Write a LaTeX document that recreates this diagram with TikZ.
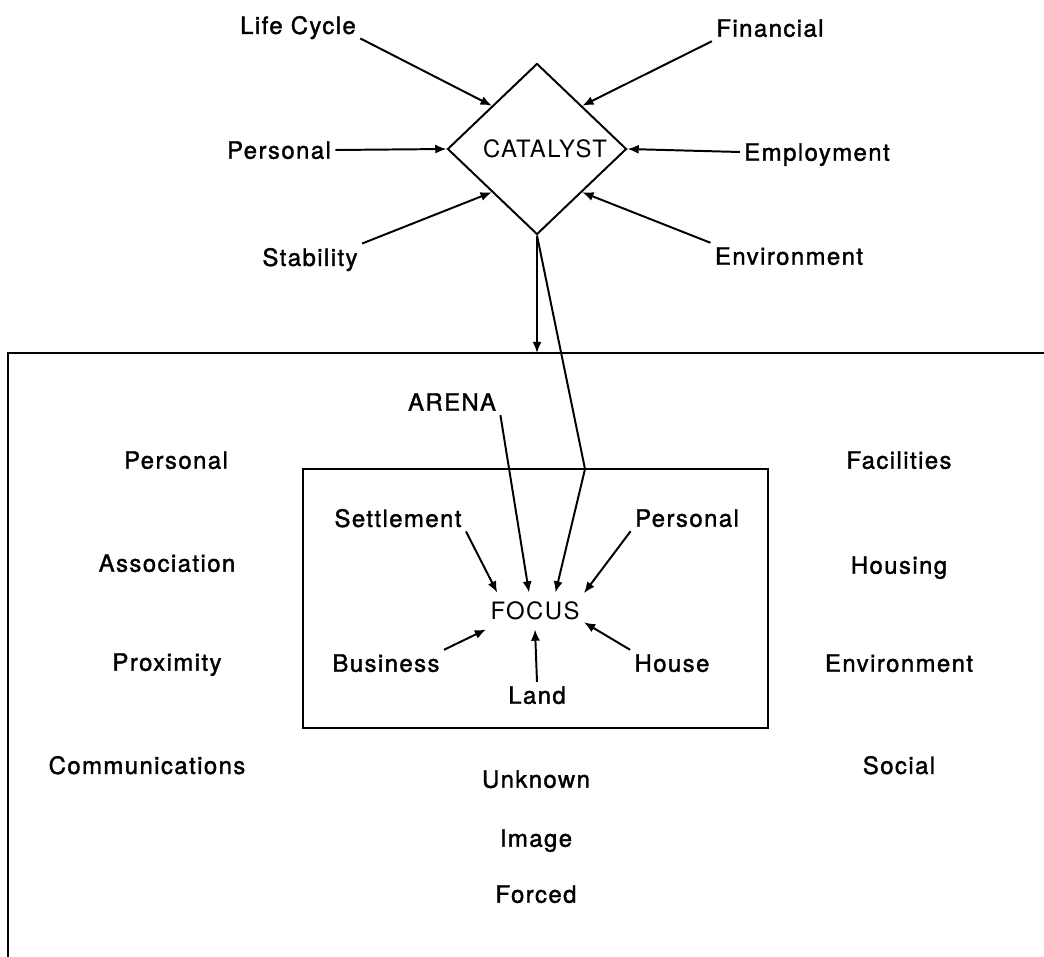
\documentclass[tikz,border=0pt]{standalone}
\usepackage{fontspec}
\setmainfont{TeX Gyre Heros}[LetterSpace=6, FakeBold=1.5]
\newfontfamily\thinfont{TeX Gyre Heros}[LetterSpace=6]
\usetikzlibrary{shapes.geometric,arrows.meta}

\begin{document}
\begin{tikzpicture}[x=0.025cm, y=-0.025cm, font=\fontsize{17}{20}\selectfont,
	lbl/.style={inner sep=3pt, text depth=0pt},
	edge/.style={line width=1.4pt},
	arr/.style={edge, -{Latex[length=8pt,width=6.5pt]}}]
	\useasboundingbox (0, 0) rectangle (1044, 957);

	\node[diamond, draw, edge, inner sep=0pt, minimum width=4.475cm, minimum height=4.275cm, font=\fontsize{17}{20}\thinfont] (catalyst) at (537, 149) {\hspace*{0.4cm}CATALYST};

	\node[lbl] (lifecycle) at (298, 25) {Life Cycle};
	\node[lbl] (financial) at (770, 28) {Financial};
	\node[lbl] (personalc) at (279, 150) {Personal};
	\node[lbl] (employment) at (817, 152) {Employment};
	\node[lbl] (stability) at (310, 257) {Stability};
	\node[lbl] (environmentc) at (789, 256) {Environment};

	\draw[arr] (lifecycle.south east) -- (catalyst.north west);
	\draw[arr] (financial.south west) -- (catalyst.north east);
	\draw[arr] (personalc.east) -- (catalyst.west);
	\draw[arr] (employment.west) -- (catalyst.east);
	\draw[arr] (stability.north east) -- (catalyst.south west);
	\draw[arr] (environmentc.north west) -- (catalyst.south east);

	\coordinate (frametl) at (8, 353);
	\coordinate (frametr) at (1044, 353);
	\coordinate (framebl) at (8, 957);
	\draw[edge] (frametr) -- (frametl) -- (framebl);
	\draw[arr] (catalyst.south) -- (catalyst.south |- frametl);

	\node[draw, edge, minimum width=11.625cm, minimum height=6.475cm] (focusbox) at (535.5, 598.5) {};
	\coordinate (kink) at (585, 469);

	\node[lbl] (arena) at (452, 402) {ARENA};
	\node[inner xsep=3pt, inner ysep=6.4pt, font=\fontsize{17}{20}\thinfont] (focus) at (535, 611) {FOCUS};
	\node[lbl] (settlement) at (398, 518) {Settlement};
	\node[lbl] (personalf) at (687, 518) {Personal};
	\node[lbl] (business) at (386, 663) {Business};
	\node[lbl] (house) at (672, 663) {House};
	\node[lbl] (land) at (537, 695) {Land};

	\draw[arr] (arena.south east) -- (focus.108);
	\draw[arr] (catalyst.south) -- (kink) -- (focus.42);
	\draw[arr] (settlement.south east) -- (focus.154);
	\draw[arr] (personalf.south west) -- (focus.20);
	\draw[arr] (business.north east) -- (focus.south west);
	\draw[arr] (house.north west) -- (focus.347);
	\draw[arr] (land.north) -- (focus.south);

	\node[lbl] (personal) at (176, 460) {Personal};
	\node[lbl] (association) at (167, 563) {Association};
	\node[lbl] (proximity) at (167, 662) {Proximity};
	\node[lbl] (communications) at (147, 765) {Communications};

	\node[lbl] (facilities) at (899, 460) {Facilities};
	\node[lbl] (housing) at (899, 565) {Housing};
	\node[lbl] (environment) at (899, 663) {Environment};
	\node[lbl] (social) at (899, 765) {Social};

	\node[lbl] (unknown) at (536, 779) {Unknown};
	\node[lbl] (image) at (536, 838) {Image};
	\node[lbl] (forced) at (536, 894) {Forced};

\end{tikzpicture}
\end{document}
